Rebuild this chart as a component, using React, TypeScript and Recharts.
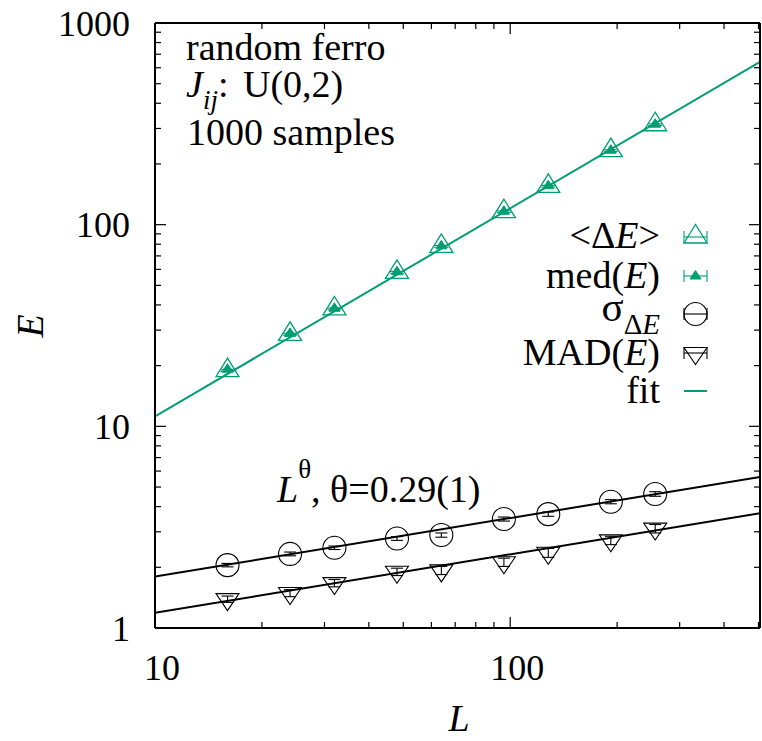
import React from 'react';
import { ComposedChart, Scatter, Line, XAxis, YAxis, ErrorBar } from 'recharts';

// system sizes
const L_SIZES = [16, 24, 32, 48, 64, 96, 128, 192, 256];

// <ΔE> and median energy (green)
const MEAN_DE = [18.9, 28.6, 38.2, 58.0, 78.0, 116, 155, 233, 313];
const MEAN_DE_ERR = [0.2, 0.3, 0.4, 0.6, 0.8, 1.1, 1.5, 2.2, 3.0];
const MED_E = [19.2, 28.9, 38.5, 58.4, 78.5, 116.5, 156, 234, 315];
const MED_E_ERR = [0.1, 0.15, 0.2, 0.3, 0.4, 0.6, 0.8, 1.1, 1.5];

// widths of the distributions (black)
const SIGMA_DE = [2.05, 2.33, 2.5, 2.78, 2.89, 3.47, 3.67, 4.23, 4.62];
const SIGMA_DE_ERR = [0.04, 0.05, 0.05, 0.06, 0.07, 0.08, 0.09, 0.1, 0.12];
const MAD_E = [1.39, 1.49, 1.67, 1.9, 1.93, 2.12, 2.36, 2.72, 3.11];
const MAD_E_ERR = [0.05, 0.06, 0.07, 0.08, 0.09, 0.1, 0.12, 0.13, 0.15];

// power-law fits a * L^b, drawn across the x range
const FIT_RANGE = [10, 505];
const FIT_E_AMP = 1.04;
const FIT_E_EXP = 1.032;
const THETA = 0.29;
const FIT_SIGMA_AMP = 0.923;
const FIT_MAD_AMP = 0.61;

// axis ticks
const X_DOMAIN = [10, 505];
const Y_DOMAIN = [1, 1000];
const X_MAJOR = [10, 100];
const X_TICKS = [10, 20, 30, 40, 50, 60, 70, 80, 90, 100, 200, 300, 400, 500];
const Y_MAJOR = [1, 10, 100, 1000];
const Y_TICKS = [
  1, 2, 3, 4, 5, 6, 7, 8, 9,
  10, 20, 30, 40, 50, 60, 70, 80, 90,
  100, 200, 300, 400, 500, 600, 700, 800, 900, 1000,
];

const GREEN = '#009e73';
const FONT = '"Liberation Serif", "Times New Roman", serif';

const points = (vals: number[], errs: number[]) =>
  L_SIZES.map((L, i) => ({ L, E: vals[i], err: errs[i] }));

const fitLine = (amp: number, exp: number) =>
  FIT_RANGE.map((L) => ({ L, E: amp * Math.pow(L, exp) }));

const meanData = points(MEAN_DE, MEAN_DE_ERR);
const medData = points(MED_E, MED_E_ERR);
const sigmaData = points(SIGMA_DE, SIGMA_DE_ERR);
const madData = points(MAD_E, MAD_E_ERR);
const fitE = fitLine(FIT_E_AMP, FIT_E_EXP);
const fitSigma = fitLine(FIT_SIGMA_AMP, THETA);
const fitMad = fitLine(FIT_MAD_AMP, THETA);

// point symbols
const OpenUp = ({ cx, cy }: any) => (
  <polygon
    points={`${cx},${cy - 12.5} ${cx - 11.5},${cy + 6} ${cx + 11.5},${cy + 6}`}
    fill="none" stroke={GREEN} strokeWidth={1.3}
  />
);
const FilledUp = ({ cx, cy }: any) => (
  <polygon
    points={`${cx},${cy - 5.5} ${cx - 5.5},${cy + 3} ${cx + 5.5},${cy + 3}`}
    fill={GREEN} stroke={GREEN} strokeWidth={1}
  />
);
const OpenCircle = ({ cx, cy }: any) => (
  <circle cx={cx} cy={cy} r={11.5} fill="none" stroke="#000" strokeWidth={1.1} />
);
const OpenDown = ({ cx, cy }: any) => (
  <polygon
    points={`${cx - 11.5},${cy - 5.5} ${cx + 11.5},${cy - 5.5} ${cx},${cy + 11.5}`}
    fill="none" stroke="#000" strokeWidth={1.1}
  />
);

// inward ticks on all four borders, labels on bottom and left only
const makeTick = (side: 'bottom' | 'top' | 'left' | 'right', majors: number[]) =>
  (props: any) => {
    const { x, y, payload } = props;
    const v = payload.value;
    const major = majors.includes(v);
    const len = major ? 11 : 6;
    let line;
    if (side === 'bottom') line = <line x1={x} x2={x} y1={y} y2={y - len} />;
    else if (side === 'top') line = <line x1={x} x2={x} y1={y} y2={y + len} />;
    else if (side === 'left') line = <line x1={x} x2={x + len} y1={y} y2={y} />;
    else line = <line x1={x} x2={x - len} y1={y} y2={y} />;
    return (
      <g stroke="#000" strokeWidth={1.2}>
        {line}
        {major && side === 'bottom' && (
          <text x={x + 7} y={y + 52} textAnchor="middle" stroke="none" fill="#000"
            style={{ fontFamily: FONT }} fontSize={36}>{v}</text>
        )}
        {major && side === 'left' && (
          <text x={x - 25} y={y + 12.5} textAnchor="end" stroke="none" fill="#000"
            style={{ fontFamily: FONT }} fontSize={36}>{v}</text>
        )}
      </g>
    );
  };

const axisLine = { stroke: '#000', strokeWidth: 2 };

// legend sample: horizontal bar with end caps, as drawn for error-bar series
const BarSample = ({ cx, cy, color }: any) => (
  <g stroke={color} strokeWidth={1.1}>
    <line x1={cx - 11.5} x2={cx + 11.5} y1={cy} y2={cy} />
    <line x1={cx - 11.5} x2={cx - 11.5} y1={cy - 6} y2={cy + 6} />
    <line x1={cx + 11.5} x2={cx + 11.5} y1={cy - 6} y2={cy + 6} />
  </g>
);

const Overlay = () => {
  const lx = 660;
  const sx = 695.5;
  return (
    <svg width={762} height={741}
      style={{ position: 'absolute', left: 0, top: 0, pointerEvents: 'none', fontFamily: FONT }}
      fontSize={38} fill="#000">
      {/* run description */}
      <text x={186} y={60}>random ferro</text>
      <text y={97}>
        <tspan x={186} fontStyle="italic">J</tspan>
        <tspan fontStyle="italic" fontSize={27} dy={12}>ij</tspan>
        <tspan dy={-12}>:</tspan>
        <tspan x={243}>U(0,2)</tspan>
      </text>
      <text x={187} y={145}>1000 samples</text>

      {/* exponent of the width fits */}
      <text x={277} y={502}>
        <tspan fontStyle="italic">L</tspan>
        <tspan fontSize={27} dy={-24}>θ</tspan>
        <tspan dy={24}>, θ=0.29(1)</tspan>
      </text>

      {/* axis titles */}
      <text x={459} y={731} textAnchor="middle" fontStyle="italic">L</text>
      <text x={0} y={0} textAnchor="middle" fontStyle="italic"
        transform="translate(43,326) rotate(-90)">E</text>

      {/* key */}
      <text x={lx} y={248} textAnchor="end">
        <tspan>&lt;Δ</tspan><tspan fontStyle="italic">E</tspan><tspan>&gt;</tspan>
      </text>
      <BarSample cx={sx} cy={237} color={GREEN} />
      <OpenUp cx={sx} cy={237} />

      <text x={lx} y={288} textAnchor="end">
        <tspan>med(</tspan><tspan fontStyle="italic">E</tspan><tspan>)</tspan>
      </text>
      <BarSample cx={sx} cy={276} color={GREEN} />
      <FilledUp cx={sx} cy={276} />

      <text x={lx} y={321} textAnchor="end">
        <tspan fontSize={41}>σ</tspan>
        <tspan fontSize={29} dy={13}>Δ</tspan>
        <tspan fontSize={29} fontStyle="italic">E</tspan>
      </text>
      <BarSample cx={sx} cy={314} color="#000" />
      <OpenCircle cx={sx} cy={314} />

      <text x={lx} y={365} textAnchor="end">
        <tspan>MAD(</tspan><tspan fontStyle="italic">E</tspan><tspan>)</tspan>
      </text>
      <BarSample cx={sx} cy={353} color="#000" />
      <OpenDown cx={sx} cy={353} />

      <text x={lx} y={403} textAnchor="end">fit</text>
      <line x1={sx - 11.5} x2={sx + 11.5} y1={391} y2={391} stroke={GREEN} strokeWidth={2} />
    </svg>
  );
};

export default function App() {
  return (
    <div style={{ position: 'absolute', left: 0, top: 0, width: 762, height: 741, background: '#fff' }}>
      <ComposedChart width={762} height={741} margin={{ top: 22, right: 1, bottom: 0, left: 0 }}>
        <XAxis dataKey="L" type="number" scale="log" domain={X_DOMAIN} allowDataOverflow
          ticks={X_TICKS} interval={0} tickSize={0} tickMargin={0} tickLine={false}
          axisLine={axisLine} tick={makeTick('bottom', X_MAJOR)} height={113} />
        <XAxis xAxisId="top" orientation="top" dataKey="L" type="number" scale="log"
          domain={X_DOMAIN} allowDataOverflow ticks={X_TICKS} interval={0} tickSize={0}
          tickMargin={0} tickLine={false} axisLine={axisLine}
          tick={makeTick('top', X_MAJOR)} height={1} />
        <YAxis dataKey="E" type="number" scale="log" domain={Y_DOMAIN} allowDataOverflow
          ticks={Y_TICKS} interval={0} tickSize={0} tickMargin={0} tickLine={false}
          axisLine={axisLine} tick={makeTick('left', Y_MAJOR)} width={155} />
        <YAxis yAxisId="right" orientation="right" dataKey="E" type="number" scale="log"
          domain={Y_DOMAIN} allowDataOverflow ticks={Y_TICKS} interval={0} tickSize={0}
          tickMargin={0} tickLine={false} axisLine={axisLine}
          tick={makeTick('right', Y_MAJOR)} width={1} />

        <Line data={fitE} dataKey="E" stroke={GREEN} strokeWidth={2} dot={false}
          activeDot={false} isAnimationActive={false} />
        <Line data={fitSigma} dataKey="E" stroke="#000" strokeWidth={2} dot={false}
          activeDot={false} isAnimationActive={false} />
        <Line data={fitMad} dataKey="E" stroke="#000" strokeWidth={2} dot={false}
          activeDot={false} isAnimationActive={false} />

        <Scatter data={meanData} dataKey="E" isAnimationActive={false}
          shape={(p: any) => <OpenUp cx={p.cx} cy={p.cy} />}>
          <ErrorBar dataKey="err" direction="y" width={7} stroke={GREEN} strokeWidth={1.1} />
        </Scatter>
        <Scatter data={medData} dataKey="E" isAnimationActive={false}
          shape={(p: any) => <FilledUp cx={p.cx} cy={p.cy} />}>
          <ErrorBar dataKey="err" direction="y" width={4} stroke={GREEN} strokeWidth={1.1} />
        </Scatter>
        <Scatter data={sigmaData} dataKey="E" isAnimationActive={false}
          shape={(p: any) => <OpenCircle cx={p.cx} cy={p.cy} />}>
          <ErrorBar dataKey="err" direction="y" width={6} stroke="#000" strokeWidth={1.1} />
        </Scatter>
        <Scatter data={madData} dataKey="E" isAnimationActive={false}
          shape={(p: any) => <OpenDown cx={p.cx} cy={p.cy} />}>
          <ErrorBar dataKey="err" direction="y" width={6} stroke="#000" strokeWidth={1.1} />
        </Scatter>
      </ComposedChart>
      <Overlay />
    </div>
  );
}
